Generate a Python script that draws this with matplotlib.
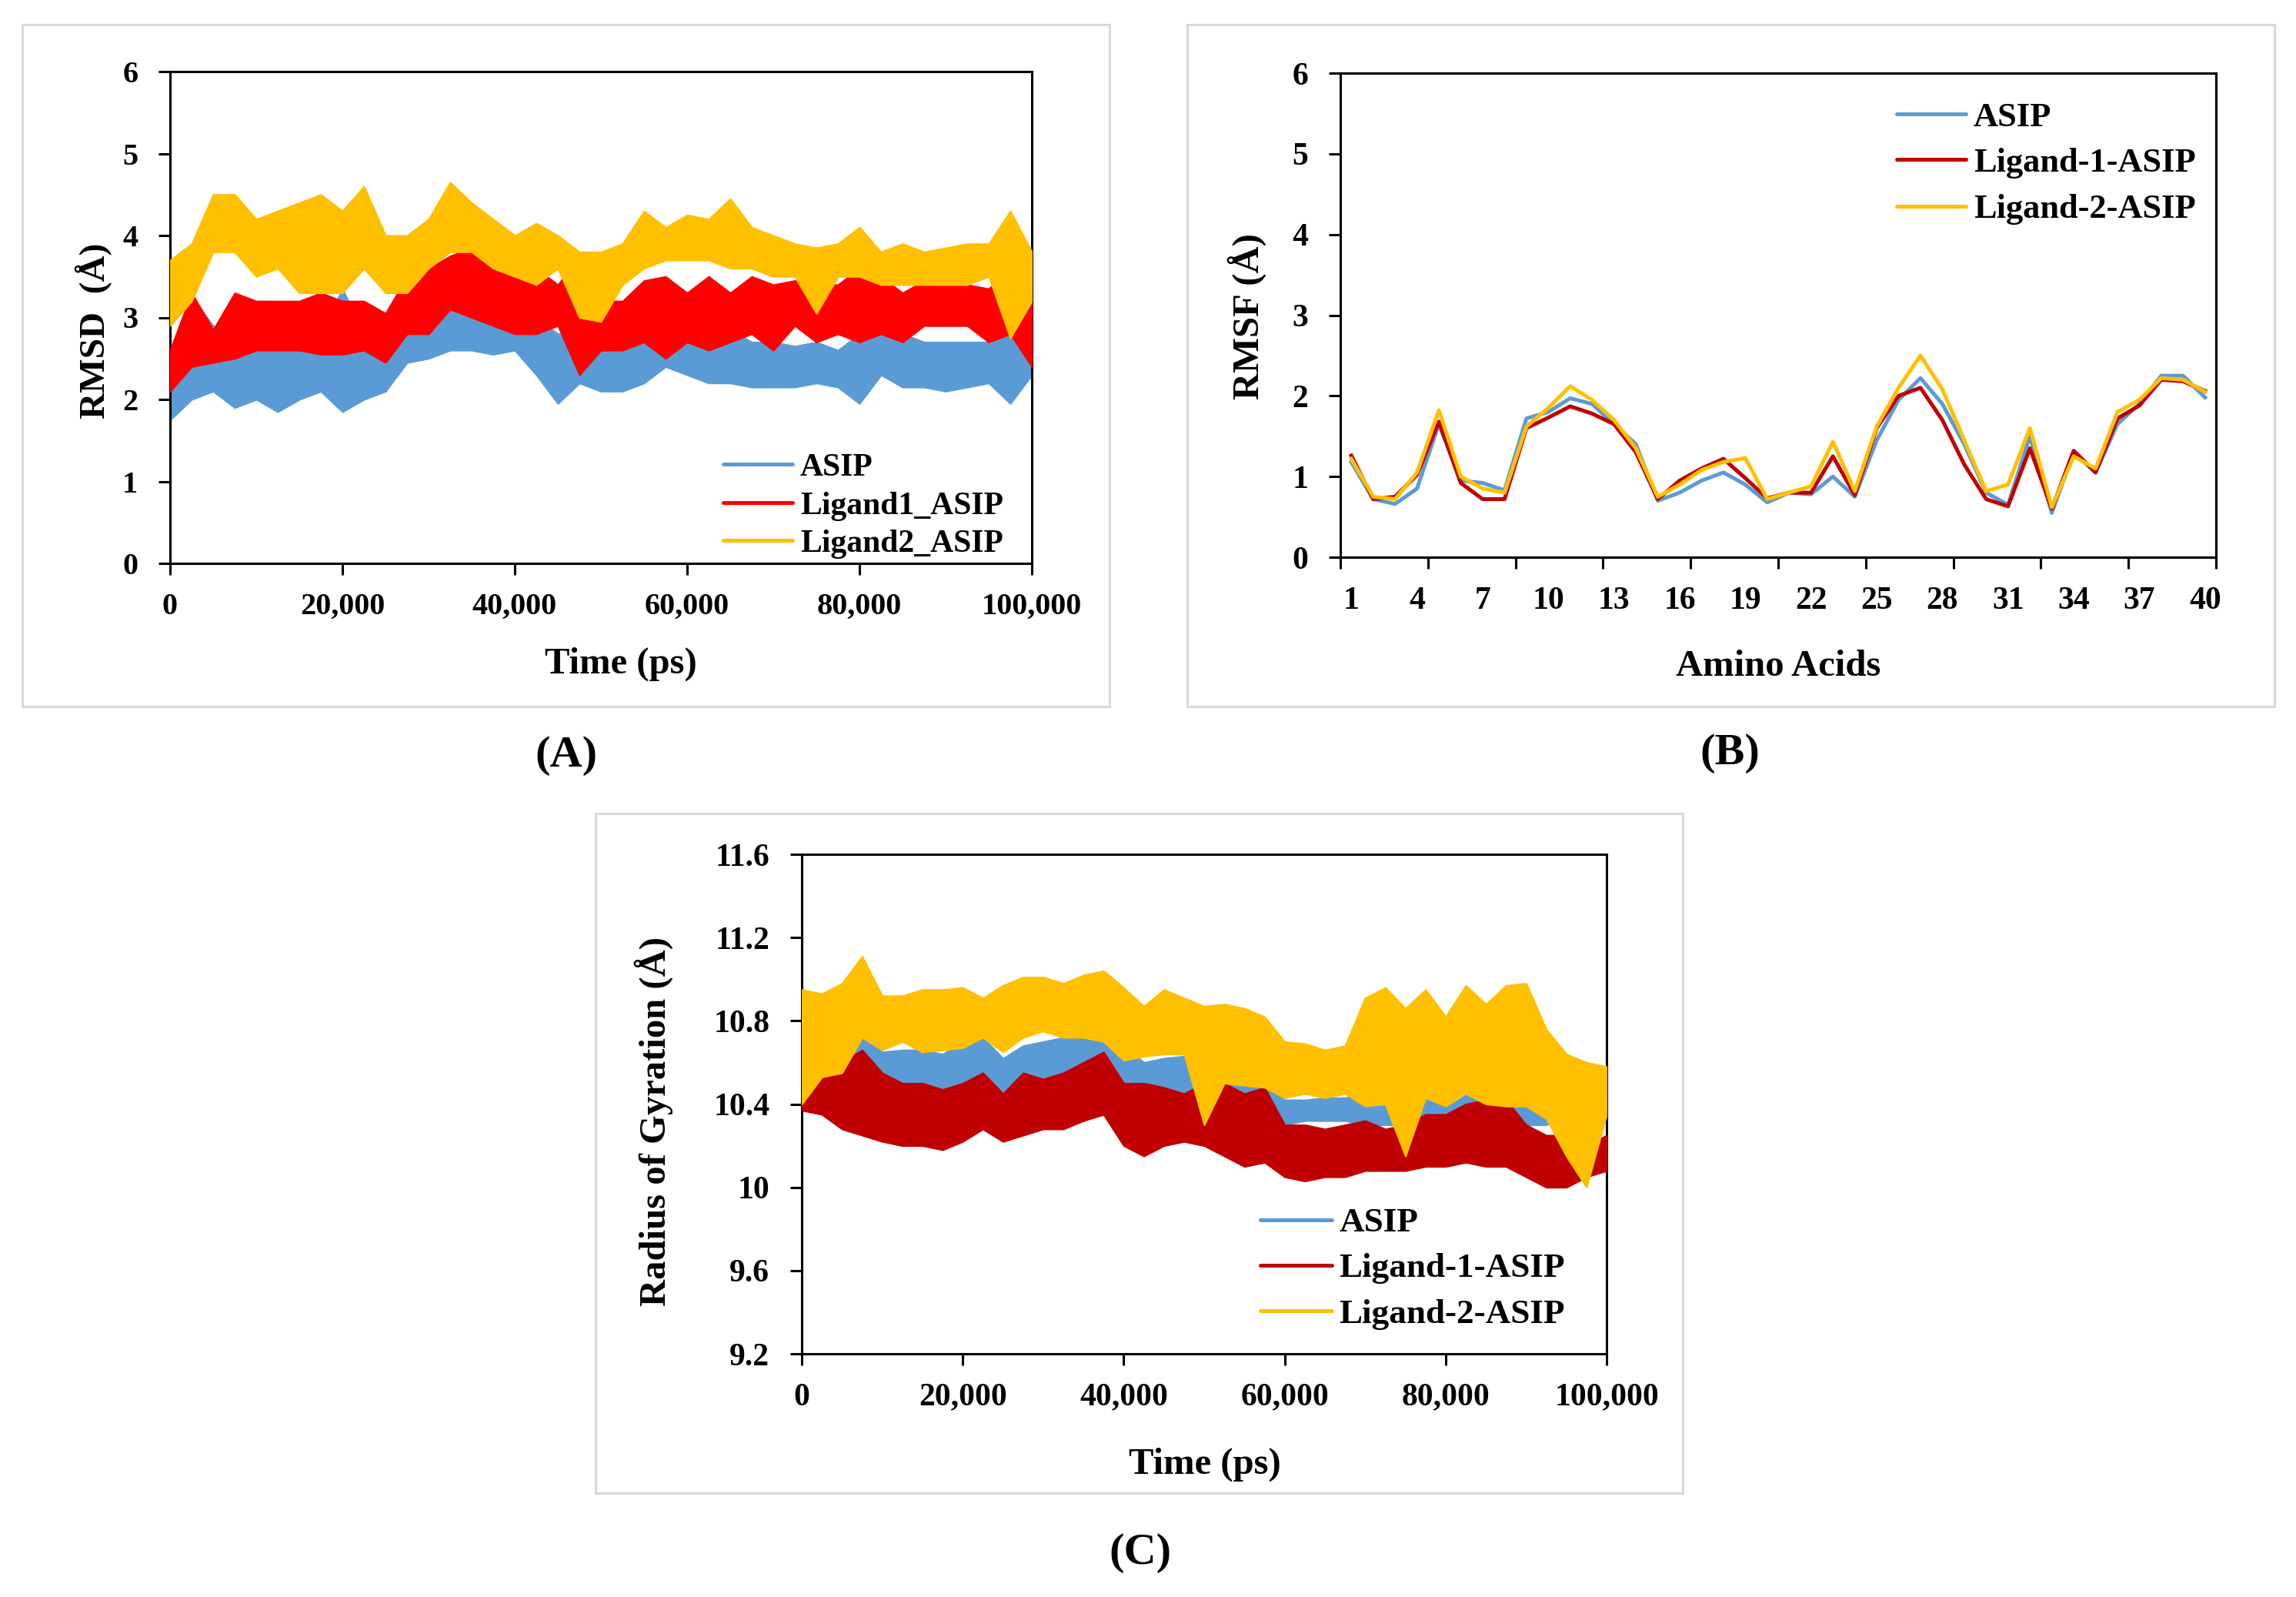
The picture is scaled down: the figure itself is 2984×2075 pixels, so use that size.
import matplotlib
matplotlib.use('Agg')
import matplotlib.pyplot as plt
from matplotlib.lines import Line2D
from matplotlib.patches import Rectangle

# ---------------- data ----------------
# (A) RMSD envelopes, sampled every 2,500 ps (lower / upper edge of each noisy trace)
time_ps = [0, 2500, 5000, 7500, 10000, 12500, 15000, 17500, 20000, 22500, 25000,
           27500, 30000, 32500, 35000, 37500, 40000, 42500, 45000, 47500, 50000,
           52500, 55000, 57500, 60000, 62500, 65000, 67500, 70000, 72500, 75000,
           77500, 80000, 82500, 85000, 87500, 90000, 92500, 95000, 97500, 100000]

rmsd_asip_lo = [1.75, 2.0, 2.1, 1.9, 2.0, 1.85, 2.0, 2.1, 1.85, 2.0, 2.1, 2.45, 2.5, 2.6, 2.6,
                2.55, 2.6, 2.3, 1.95, 2.2, 2.1, 2.1, 2.2, 2.4, 2.3, 2.2, 2.2, 2.15, 2.15, 2.15,
                2.2, 2.15, 1.95, 2.3, 2.15, 2.15, 2.1, 2.15, 2.2, 1.95, 2.3]
rmsd_asip_hi = [2.3, 3.25, 2.9, 2.7, 2.8, 2.7, 2.7, 2.8, 3.35, 2.8, 2.8, 3.1, 3.0, 3.3, 3.2,
                3.1, 3.0, 3.0, 2.8, 2.8, 2.7, 2.65, 2.8, 3.0, 2.9, 2.85, 2.85, 2.7, 2.7, 2.65,
                2.7, 2.6, 2.8, 2.9, 2.8, 2.7, 2.7, 2.7, 2.7, 2.9, 3.3]
rmsd_lig1_lo = [2.1, 2.4, 2.45, 2.5, 2.6, 2.6, 2.6, 2.55, 2.55, 2.6, 2.45, 2.8, 2.8, 3.1, 3.0,
                2.9, 2.8, 2.8, 2.9, 2.3, 2.6, 2.6, 2.7, 2.5, 2.7, 2.6, 2.7, 2.8, 2.6, 2.9,
                2.7, 2.8, 2.7, 2.8, 2.7, 2.9, 2.9, 2.9, 2.7, 2.8, 2.4]
rmsd_lig1_hi = [2.6, 3.3, 2.85, 3.3, 3.2, 3.2, 3.2, 3.3, 3.2, 3.2, 3.05, 3.5, 3.6, 3.75, 3.85,
                3.8, 3.6, 3.6, 3.4, 3.75, 3.2, 3.2, 3.45, 3.5, 3.3, 3.5, 3.3, 3.5, 3.4, 3.45,
                3.4, 3.4, 3.6, 3.5, 3.3, 3.45, 3.5, 3.4, 3.35, 3.6, 3.4]
rmsd_lig2_lo = [2.9, 3.2, 3.8, 3.8, 3.5, 3.6, 3.3, 3.3, 3.3, 3.6, 3.3, 3.3, 3.6, 3.8, 3.8,
                3.6, 3.5, 3.4, 3.6, 3.0, 2.95, 3.4, 3.6, 3.7, 3.7, 3.7, 3.6, 3.6, 3.5, 3.5,
                3.05, 3.5, 3.5, 3.4, 3.4, 3.4, 3.4, 3.4, 3.5, 2.75, 3.2]
rmsd_lig2_hi = [3.7, 3.9, 4.5, 4.5, 4.2, 4.3, 4.4, 4.5, 4.3, 4.6, 4.0, 4.0, 4.2, 4.65, 4.4,
                4.2, 4.0, 4.15, 4.0, 3.8, 3.8, 3.9, 4.3, 4.1, 4.25, 4.2, 4.45, 4.1, 4.0, 3.9,
                3.85, 3.9, 4.1, 3.8, 3.9, 3.8, 3.85, 3.9, 3.9, 4.3, 3.8]

# (B) RMSF per residue
residues = list(range(1, 41))
rmsf_asip = [1.18, 0.72, 0.66, 0.85, 1.65, 0.95, 0.92, 0.83, 1.72, 1.80, 1.97, 1.90, 1.65, 1.40,
             0.70, 0.80, 0.95, 1.05, 0.90, 0.68, 0.80, 0.78, 1.00, 0.75, 1.45, 1.95, 2.22, 1.90,
             1.40, 0.80, 0.65, 1.50, 0.55, 1.30, 1.05, 1.65, 1.90, 2.25, 2.25, 1.98]
rmsf_lig1 = [1.26, 0.72, 0.75, 1.02, 1.68, 0.92, 0.72, 0.72, 1.60, 1.73, 1.87, 1.78, 1.65, 1.30,
             0.72, 0.95, 1.10, 1.22, 0.98, 0.73, 0.80, 0.80, 1.25, 0.77, 1.60, 2.00, 2.10, 1.70,
             1.15, 0.72, 0.63, 1.35, 0.60, 1.32, 1.05, 1.72, 1.88, 2.20, 2.18, 2.06]
rmsf_lig2 = [1.22, 0.75, 0.72, 1.05, 1.82, 1.00, 0.85, 0.80, 1.62, 1.85, 2.12, 1.95, 1.70, 1.35,
             0.75, 0.90, 1.08, 1.18, 1.23, 0.72, 0.80, 0.88, 1.43, 0.82, 1.62, 2.10, 2.50, 2.08,
             1.45, 0.82, 0.90, 1.60, 0.62, 1.25, 1.10, 1.80, 1.95, 2.22, 2.20, 2.05]

# (C) Radius of gyration envelopes, sampled every 2,500 ps
rg_asip_lo = [10.5, 10.5, 10.5, 10.5, 10.42, 10.45, 10.45, 10.45, 10.45, 10.45, 10.42, 10.48,
              10.5, 10.52, 10.5, 10.5, 10.45, 10.4, 10.4, 10.4, 10.3, 10.3, 10.3, 10.3, 10.3,
              10.32, 10.32, 10.32, 10.3, 10.3, 10.3, 10.35, 10.35, 10.35, 10.3, 10.3, 10.3,
              10.3, 10.35, 10.4, 10.4]
rg_asip_hi = [10.87, 10.75, 10.72, 10.74, 10.65, 10.66, 10.66, 10.64, 10.70, 10.72, 10.62,
              10.68, 10.70, 10.72, 10.74, 10.76, 10.68, 10.60, 10.62, 10.63, 10.55, 10.55,
              10.52, 10.48, 10.42, 10.42, 10.43, 10.43, 10.45, 10.70, 10.50, 10.60, 10.55,
              10.60, 10.52, 10.55, 10.58, 10.65, 10.55, 10.60, 10.55]
rg_lig1_lo = [10.37, 10.35, 10.28, 10.25, 10.22, 10.20, 10.20, 10.18, 10.22, 10.28, 10.22,
              10.25, 10.28, 10.28, 10.32, 10.35, 10.20, 10.15, 10.20, 10.22, 10.20, 10.15,
              10.10, 10.12, 10.05, 10.03, 10.05, 10.05, 10.08, 10.08, 10.08, 10.10, 10.10,
              10.12, 10.10, 10.10, 10.05, 10.00, 10.00, 10.05, 10.08]
rg_lig1_hi = [10.55, 10.55, 10.60, 10.66, 10.55, 10.50, 10.50, 10.47, 10.50, 10.55, 10.45,
              10.55, 10.52, 10.55, 10.60, 10.65, 10.50, 10.50, 10.48, 10.45, 10.50, 10.50,
              10.45, 10.48, 10.30, 10.30, 10.28, 10.30, 10.32, 10.28, 10.30, 10.35, 10.35,
              10.40, 10.42, 10.42, 10.30, 10.25, 10.25, 10.20, 10.25]
rg_lig2_lo = [10.40, 10.53, 10.55, 10.72, 10.66, 10.70, 10.65, 10.66, 10.67, 10.72, 10.65,
              10.72, 10.75, 10.72, 10.72, 10.70, 10.61, 10.63, 10.64, 10.64, 10.30, 10.50,
              10.49, 10.48, 10.43, 10.45, 10.43, 10.45, 10.39, 10.40, 10.15, 10.43, 10.39,
              10.45, 10.40, 10.39, 10.39, 10.33, 10.15, 10.00, 10.35]
rg_lig2_hi = [10.95, 10.93, 10.98, 11.11, 10.92, 10.92, 10.95, 10.95, 10.96, 10.91, 10.97,
              11.01, 11.01, 10.98, 11.02, 11.04, 10.96, 10.87, 10.95, 10.91, 10.87, 10.88,
              10.86, 10.82, 10.70, 10.69, 10.66, 10.68, 10.91, 10.96, 10.86, 10.95, 10.82,
              10.97, 10.88, 10.97, 10.98, 10.76, 10.64, 10.60, 10.58]

# tick labels
time_ticks = [0, 20000, 40000, 60000, 80000, 100000]
time_tick_labels = ['0', '20,000', '40,000', '60,000', '80,000', '100,000']
rmsd_ticks = [0, 1, 2, 3, 4, 5, 6]
residue_label_ticks = [1, 4, 7, 10, 13, 16, 19, 22, 25, 28, 31, 34, 37, 40]
rg_ticks = [9.2, 9.6, 10.0, 10.4, 10.8, 11.2, 11.6]
rg_tick_labels = ['9.2', '9.6', '10', '10.4', '10.8', '11.2', '11.6']

labels_A = ['ASIP', 'Ligand1_ASIP', 'Ligand2_ASIP']
labels_BC = ['ASIP', 'Ligand-1-ASIP', 'Ligand-2-ASIP']
colors_A = ['#5B9BD5', '#FF0000', '#FFC000']
colors_BC = ['#5B9BD5', '#C00000', '#FFC000']

# ---------------- layout ----------------
W, H, DPI = 2984, 2075, 100
plt.rcParams['font.family'] = ['Liberation Serif', 'DejaVu Serif']
plt.rcParams['font.weight'] = 'bold'
plt.rcParams['axes.labelweight'] = 'bold'

fig = plt.figure(figsize=(W / DPI, H / DPI), dpi=DPI)
fig.patch.set_facecolor('white')


def fx(x):
    return x / W


def fy(y):
    return 1 - y / H


def add_axes_px(l, t, r, b):
    return fig.add_axes([l / W, 1 - b / H, (r - l) / W, (b - t) / H])


def frame(l, t, r, b):
    fig.add_artist(Rectangle((fx(l), fy(b)), (r - l) / W, (b - t) / H,
                             transform=fig.transFigure, fill=False,
                             edgecolor='#d9d9d9', linewidth=2.2, zorder=0))


def style(ax, tick_size):
    for s in ax.spines.values():
        s.set_linewidth(2.2)
        s.set_color('black')
    ax.tick_params(axis='both', which='major', direction='out', length=11, width=2.2,
                   labelsize=tick_size, top=False, right=False, colors='black')
    ax.tick_params(axis='x', which='major', pad=16)
    ax.tick_params(axis='y', which='major', pad=19)


def legend(labels, colors, x0, x1, xt, centers, size, lw=3.6):
    for lab, col, yc in zip(labels, colors, centers):
        fig.add_artist(Line2D([fx(x0), fx(x1)], [fy(yc), fy(yc)], transform=fig.transFigure,
                              color=col, linewidth=lw, solid_capstyle='round'))
        fig.text(fx(xt), fy(yc), lab, fontsize=size, fontweight='bold',
                 ha='left', va='center_baseline')


frame(29, 32, 1442, 918)
frame(1543, 32, 2956, 918)
frame(774, 1057, 2187, 1940)

# ---------- (A) RMSD ----------
axA = add_axes_px(221, 93, 1341, 732)
envA = [(rmsd_asip_lo, rmsd_asip_hi), (rmsd_lig1_lo, rmsd_lig1_hi), (rmsd_lig2_lo, rmsd_lig2_hi)]
for i, ((lo, hi), col) in enumerate(zip(envA, colors_A)):
    axA.fill_between(time_ps, lo, hi, color=col, linewidth=1.5, edgecolor=col, zorder=2 + i)
axA.set_xlim(0, 100000)
axA.set_ylim(0, 6)
axA.set_xticks(time_ticks)
axA.set_xticklabels(time_tick_labels)
axA.set_yticks(rmsd_ticks)
axA.set_yticklabels([str(v) for v in rmsd_ticks])
style(axA, 29)
legend(labels_A, colors_A, 940, 1030, 1040, [603, 653, 702], 30)
fig.text(fx(122), fy(430), 'RMSD  (Å)', rotation=90, fontsize=34, fontweight='bold',
         ha='center', va='center')
fig.text(fx(807), fy(858), 'Time (ps)', fontsize=35, fontweight='bold',
         ha='center', va='center_baseline')
fig.text(fx(736), fy(982), '(A)', fontsize=42, fontweight='bold', ha='center', va='center')

# ---------- (B) RMSF ----------
axB = add_axes_px(1742, 95, 2880, 724)
for vals, col, i in zip([rmsf_asip, rmsf_lig1, rmsf_lig2], colors_BC, range(3)):
    axB.plot(residues, vals, color=col, linewidth=3.6, zorder=2 + i)
axB.set_xlim(0.5, 40.5)
axB.set_ylim(0, 6)
axB.set_xticks([0.5 + 4 * k for k in range(11)])
axB.set_xticklabels([''] * 11)
axB.set_xticks(residue_label_ticks, minor=True)
axB.set_xticklabels([str(v) for v in residue_label_ticks], minor=True)
axB.set_yticks(rmsd_ticks)
axB.set_yticklabels([str(v) for v in rmsd_ticks])
style(axB, 30)
axB.tick_params(axis='x', which='minor', length=0, labelsize=30, pad=27)
legend(labels_BC, colors_BC, 2465, 2555, 2565, [148, 207, 268], 32)
fig.text(fx(1621), fy(411), 'RMSF (Å)', rotation=90, fontsize=35, fontweight='bold',
         ha='center', va='center')
fig.text(fx(2311), fy(861), 'Amino Acids', fontsize=35, fontweight='bold',
         ha='center', va='center_baseline')
fig.text(fx(2248), fy(979), '(B)', fontsize=42, fontweight='bold', ha='center', va='center')

# ---------- (C) Radius of gyration ----------
axC = add_axes_px(1042, 1110, 2088, 1759)
envC = [(rg_asip_lo, rg_asip_hi), (rg_lig1_lo, rg_lig1_hi), (rg_lig2_lo, rg_lig2_hi)]
for i, ((lo, hi), col) in enumerate(zip(envC, colors_BC)):
    axC.fill_between(time_ps, lo, hi, color=col, linewidth=1.5, edgecolor=col, zorder=2 + i)
axC.set_xlim(0, 100000)
axC.set_ylim(9.2, 11.6)
axC.set_xticks(time_ticks)
axC.set_xticklabels(time_tick_labels)
axC.set_yticks(rg_ticks)
axC.set_yticklabels(rg_tick_labels)
style(axC, 30)
legend(labels_BC, colors_BC, 1638, 1731, 1740, [1585, 1644, 1703], 32.5)
fig.text(fx(850), fy(1457), 'Radius of Gyration (Å)', rotation=90, fontsize=35,
         fontweight='bold', ha='center', va='center')
fig.text(fx(1566), fy(1898), 'Time (ps)', fontsize=35, fontweight='bold',
         ha='center', va='center_baseline')
fig.text(fx(1482), fy(2018), '(C)', fontsize=42, fontweight='bold', ha='center', va='center')

fig.savefig('out.png', dpi=DPI, facecolor='white')
